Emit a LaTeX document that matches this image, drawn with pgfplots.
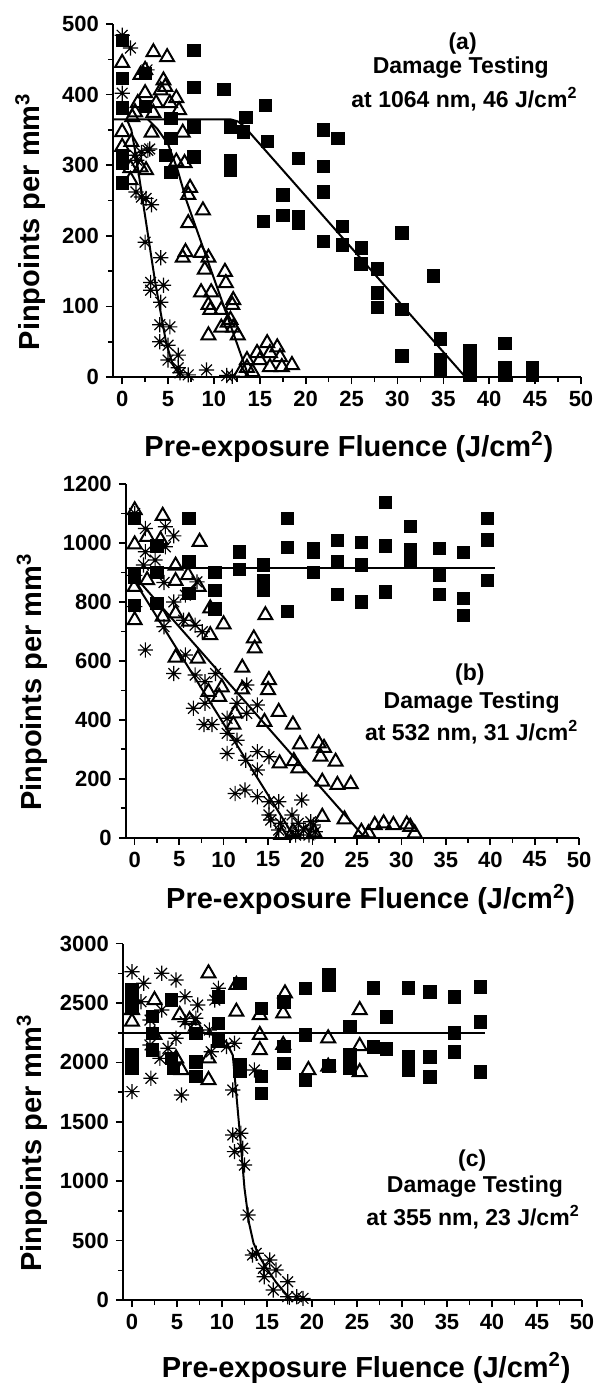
\documentclass[border=0pt]{standalone}
\usepackage{fontspec}
\setmainfont{Liberation Sans}
\usepackage{pgfplots}
\pgfplotsset{compat=1.18}
\pgfdeclareplotmark{star8}{%
  \pgfpathmoveto{\pgfqpoint{-\pgfplotmarksize}{0pt}}\pgfpathlineto{\pgfqpoint{\pgfplotmarksize}{0pt}}%
  \pgfpathmoveto{\pgfqpoint{0pt}{-\pgfplotmarksize}}\pgfpathlineto{\pgfqpoint{0pt}{\pgfplotmarksize}}%
  \pgfpathmoveto{\pgfqpoint{-0.707\pgfplotmarksize}{-0.707\pgfplotmarksize}}\pgfpathlineto{\pgfqpoint{0.707\pgfplotmarksize}{0.707\pgfplotmarksize}}%
  \pgfpathmoveto{\pgfqpoint{-0.707\pgfplotmarksize}{0.707\pgfplotmarksize}}\pgfpathlineto{\pgfqpoint{0.707\pgfplotmarksize}{-0.707\pgfplotmarksize}}%
  \pgfusepathqstroke}
\tikzset{ann/.style={font=\bfseries\fontsize{11.5}{13}\selectfont, anchor=center}}
\pgfplotsset{
  panel/.style={
    scale only axis,
    axis x line=bottom, axis y line=left,
    axis line style={-, line width=0.8pt, black},
    tick align=outside,
    major tick length=3.5pt, minor tick length=2.5pt,
    every tick/.style={line width=0.8pt, black},
    xmin=-1, xmax=50, xtick={0,5,...,50}, minor x tick num=1,
    ymin=0, minor y tick num=1,
    scaled y ticks=false,
    /pgf/number format/assume math mode=true,
    /pgf/number format/1000 sep={},
    ticklabel style={font=\bfseries\fontsize{11}{13}\selectfont},
    label style={font=\bfseries\fontsize{14.5}{17}\selectfont},
    xlabel={Pre-exposure Fluence (J/cm\textsuperscript{2})},
    ylabel={Pinpoints per mm\textsuperscript{3}},
  },
  sq/.style={only marks, mark=square*, mark size=3.1pt, mark options={fill=black, draw=black, line width=0.4pt}},
  tri/.style={only marks, mark=triangle, mark size=4pt, mark options={draw=black, line width=1pt, fill=white}},
  st/.style={only marks, mark=star8, mark size=3.8pt, mark options={draw=black, line width=0.6pt}},
  fit/.style={no marks, black, line width=1pt},
}
\begin{document}
\begin{tikzpicture}
\useasboundingbox (0,0) rectangle (299pt,-694pt);
% ---------------- panel (a)
\begin{axis}[panel, at={(56.5pt,-188.5pt)}, anchor=south west,
  width=234pt, height=176.5pt, ymax=500, ytick={0,100,...,500},
  xlabel style={at={(axis description cs:0.504,-0.198)}, anchor=center},
  ylabel style={at={(axis description cs:-0.176,0.44)}, anchor=center}]
\addplot[tri] table {
0 445
3.4 460
4.9 453
2.0 428
2.5 435
4.5 420
4.7 411
4.2 406
2.5 402
1.7 388
3.7 388
5.2 388
5.9 395
1.4 375
3.4 374
6.2 378
1.1 368
0 347
1.0 333
3.2 346
6.6 346
0 326
0.9 296
2.0 297
2.6 293
5.9 305
6.8 303
0.9 279
7.4 268
7.2 258
8.8 236
7.2 218
6.9 177
6.6 169
8.6 176
9.4 169
9.0 152
11.2 149
11.3 133
8.6 120
9.7 120
9.4 102
9.6 95
10.8 95
12.1 109
12.1 70
10.8 70
9.4 59
12.6 59
11.5 77
12.0 102
11.8 81
13.6 24
13.6 13
14.7 34
15.0 24
15.8 48
16.1 34
16.9 42
17.2 28
17.4 14
18.5 17
16.1 14
14.2 7
12.9 6
};
\addplot[st] table {
0 484
0.9 466
0 402
2.7 435
1.6 307
2.1 318
2.8 321
3.0 323
1.4 314
1.5 262
2.1 255
2.6 253
3.2 244
2.5 191
4.2 169
3.1 134
3.1 123
4.5 130
4.2 106
4.1 74
5.2 71
4.1 50
5.0 45
5.0 24
6.1 31
6.1 13
6.3 6
7.2 3
9.2 10
11.4 2
12.0 1
};
\addplot[sq] table {
0 477
0 423
0 381
0 314
0 303
0 275
2.5 430
2.5 383
7.8 463
7.8 410
7.8 354
7.8 312
5.3 366
5.3 338
4.7 314
5.3 290
11.1 407
11.8 354
11.8 307
11.8 293
13.2 347
13.5 368
15.6 385
15.8 334
19.2 310
21.9 350
21.9 298
23.5 338
17.5 258
21.9 262
15.4 220
17.5 229
19.2 227
19.2 218
21.9 192
24 213
24 187
26.1 183
26 160
27.8 153
27.8 119
27.8 99
30.5 204
30.5 96
30.5 30
33.9 143
34.7 54
34.7 24
34.7 10
37.9 38
37.9 20
37.9 3
41.7 48
41.7 14
41.7 3
44.7 14
44.7 3
};
\addplot[fit] coordinates {(-1,365) (11.8,365) (12.6,362) (13.3,355) (37.4,0)};
\addplot[fit] coordinates {(0.5,365) (1.0,350) (1.5,314) (2.1,262) (3.6,134) (4.8,48) (5.5,18) (6.4,0)};
\addplot[fit] coordinates {(2.8,365) (3.8,352) (5.0,330) (6.0,295) (7.0,250) (13.8,0)};
\node[ann] at (axis cs:37.1,473) {(a)};
\node[ann] at (axis cs:36.9,438) {Damage Testing};
\node[ann] at (axis cs:37.3,394) {at 1064 nm, 46 J/cm\textsuperscript{2}};
\end{axis}
% ---------------- panel (b)
\begin{axis}[panel, at={(62.9pt,-418.85pt)}, anchor=south west,
  width=226.7pt, height=176.85pt, ymax=1200, ytick={0,200,...,1200},
  xlabel style={at={(axis description cs:0.54,-0.175)}, anchor=center},
  ylabel style={at={(axis description cs:-0.207,0.44)}, anchor=center}]
\addplot[tri] table {
0 1111
3.15 1092
0 995
1.4 1021
2.9 1010
7.3 1004
4.6 923
6.0 891
0 851
1.4 874
4.6 871
7.2 851
0 738
3.15 750
4.6 761
6.1 733
8.5 778
10.0 724
8.5 687
14.7 755
13.4 676
13.5 642
4.6 611
7.1 608
12.1 577
15.1 535
15.0 501
9.8 510
12.1 503
8.3 495
9.5 478
11.3 422
11.1 384
14.6 393
16.2 427
17.8 384
18.6 317
20.7 320
21.3 305
20.9 275
22.6 258
16.3 252
17.9 260
18.4 235
21.1 190
22.8 179
24.3 182
21.1 71
23.6 62
25.5 20
26.3 15
27 43
28 49
29.1 43
30.6 45
31 37
31.5 15
16.5 10
17.8 20
19.2 12
20.2 18
};
\addplot[st] table {
0 1100
1.2 1049
3.45 1055
4.4 1024
3.45 987
1.2 970
2.3 942
1.0 925
0 890
3.3 866
5.7 823
7.0 868
4.4 800
0 784
5.5 738
3.3 716
7.6 699
6.8 721
1.2 637
5.7 620
4.4 557
6.8 552
7.9 529
9.1 557
12.6 518
6.6 439
7.9 456
11.5 456
13.8 450
7.8 384
8.7 384
10.4 405
12.6 422
10.4 354
11.5 331
10.4 286
12.5 263
13.8 292
13.8 230
15.1 275
11.3 150
12.4 162
13.8 139
15.1 122
16.2 122
18.8 128
15.1 77
15.3 60
16.4 49
17.7 77
18.4 49
19.8 54
20.1 43
16.2 26
17.7 20
19.0 26
20.3 20
18.1 9
19.6 9
};
\addplot[sq] table {
0 1083
2.5 990
0 897
0 885
2.5 900
0 789
2.5 795
6.1 1083
6.1 936
6.1 829
9.0 900
9.0 840
9.0 776
11.8 970
11.8 911
14.5 925
14.5 874
14.5 840
17.2 1083
17.2 984
17.2 767
20.1 981
20.1 970
20.1 900
22.8 1008
22.8 938
22.8 826
25.5 1001
25.5 925
25.5 800
28.2 1138
28.2 990
28.2 834
31 1057
31 976
31 942
34.3 982
34.3 891
34.3 826
37 968
37 812
37 755
39.7 1083
39.7 1010
39.7 872
};
\addplot[fit] coordinates {(-1,914) (40.5,914)};
\addplot[fit] coordinates {(0,887) (25.9,0)};
\addplot[fit] coordinates {(0,870) (18.0,0)};
\node[ann] at (axis cs:37.7,552) {(b)};
\node[ann] at (axis cs:37.9,460) {Damage Testing};
\node[ann] at (axis cs:37.9,358) {at 532 nm, 31 J/cm\textsuperscript{2}};
\end{axis}
% ---------------- panel (c)
\begin{axis}[panel, at={(61.5pt,-650pt)}, anchor=south west,
  width=229.5pt, height=178.2pt, ymax=3000, ytick={0,500,...,3000},
  xlabel style={at={(axis description cs:0.53,-0.19)}, anchor=center},
  ylabel style={at={(axis description cs:-0.198,0.44)}, anchor=center}]
\addplot[tri] table {
0 2441
0 2343
2.5 2525
5.3 2399
6.4 2357
8.5 2750
7.1 2301
2.5 2231
4.9 2034
5.5 1936
8.5 2034
8.5 1852
11.6 2427
11.6 2652
14.2 2399
14.2 2231
14.2 2104
17 2581
16.8 2413
16.8 2147
19.6 1936
21.8 2203
21.8 1964
25.3 2441
25.3 2138
25.3 1919
};
\addplot[st] table {
0 2764
3.3 2750
1.3 2666
4.9 2694
1.0 2511
3.3 2441
5.9 2553
7.3 2483
9.2 2525
9.6 2624
2.0 2357
5.9 2343
7.1 2371
8.6 2273
4.9 2203
2.0 2147
4.0 2119
3.1 2034
8.8 2090
10.5 2133
11.4 2161
2.1 1866
0 1754
5.5 1726
13.6 1936
11.2 1768
11.2 1389
12.1 1403
11.4 1249
12.3 1277
12.5 1136
12.9 716
13.4 379
13.8 393
14.6 267
15.3 337
14.7 196
16.0 253
17.3 154
15.7 84
17.3 28
18.3 28
19.0 14
};
\addplot[sq] table {
0 2610
0 2497
0 2455
0 2062
0 1950
2.3 2385
2.3 2245
2.3 2104
4.4 2525
4.4 2034
4.6 1950
7.1 2245
7.1 2006
7.1 1880
9.6 2553
9.6 2329
9.6 2180
12 2666
12 1978
12 1922
14.4 2455
14.4 1880
14.4 1740
16.9 2511
16.9 2133
16.9 1992
19.3 2624
19.3 2231
19.3 1852
21.9 2736
21.9 2650
21.9 1970
24.2 2300
24.2 2062
24.2 1950
26.8 2626
26.8 2130
28.3 2382
28.3 2113
30.7 2626
30.7 2046
30.7 1936
33.1 2593
33.1 2046
33.1 1877
35.8 2551
35.8 2247
35.8 2088
38.7 2635
38.7 2340
38.7 1919
};
\addplot[fit] coordinates {(-1,2245) (39.2,2245)};
\addplot[fit] coordinates {(8,2245) (9.5,2225) (10.5,2170) (11.2,2060) (11.6,1726) (12.0,1389) (12.5,940) (13.0,650) (13.5,480) (14.2,360) (15.0,260) (16.0,150) (17.0,60) (17.7,0)};
\node[ann] at (axis cs:37.8,1178) {(c)};
\node[ann] at (axis cs:38.1,951) {Damage Testing};
\node[ann] at (axis cs:37.9,699) {at 355 nm, 23 J/cm\textsuperscript{2}};
\end{axis}
\end{tikzpicture}
\end{document}
